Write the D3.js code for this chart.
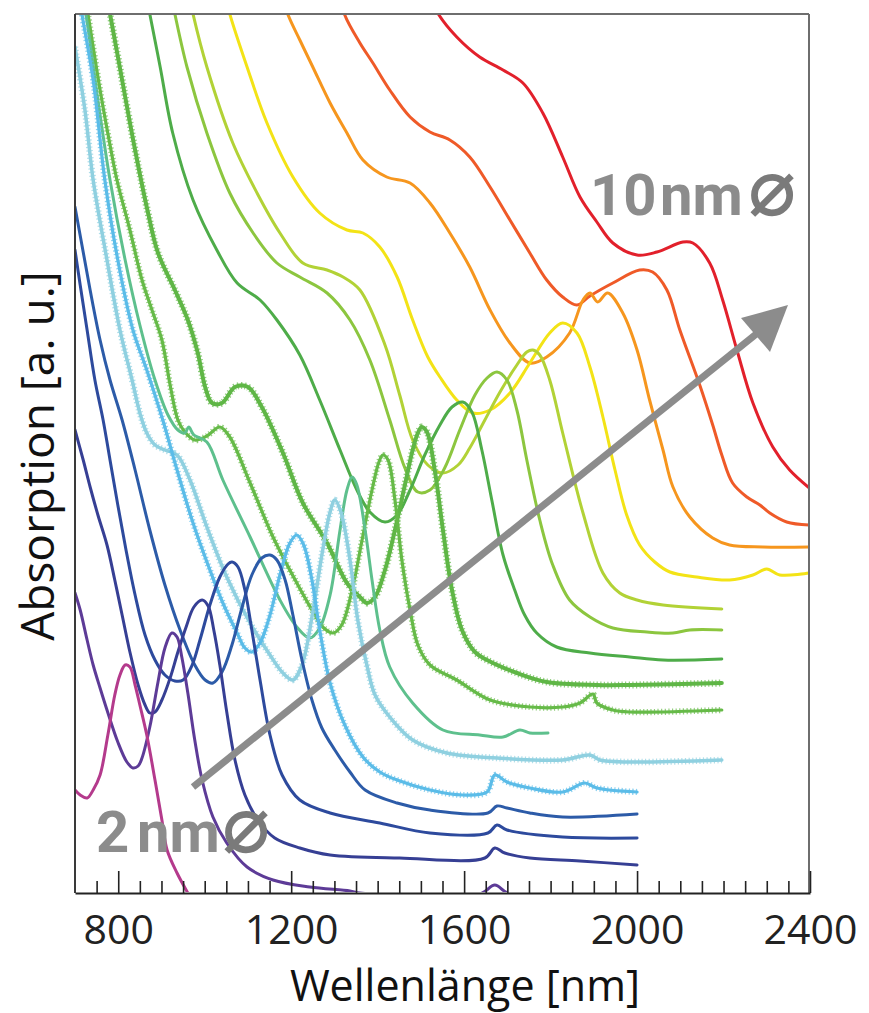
<!DOCTYPE html>
<html><head><meta charset="utf-8">
<script src="https://cdn.jsdelivr.net/npm/d3@7/dist/d3.min.js"></script>
<style>body{margin:0;background:#fff}</style>
</head><body>
<svg id="chart" width="869" height="1013"></svg>
<script>
// ---- data: [wavelength nm, absorption a.u.] ----
const majorTicks = [800, 1200, 1600, 2000, 2400];
const tickLabels = ["800", "1200", "1600", "2000", "2400"];
const minorTicks = d3.range(750, 2400, 50);

const s2nm = [[700,1.03],[712,0.98],[728,0.95],[742,1.03],[758,1.18],[776,1.58],[792,1.98],[804,2.18],[816,2.28],[827,2.26],[839,2.08],[850,1.88],[866,1.58],[885,1.13],[901,0.73],[913,0.43],[936,0.20],[961,0.00],[977,-0.12]];
const sPurple = [[700,3.00],[712,2.83],[728,2.53],[742,2.28],[758,2.05],[774,1.83],[799,1.51],[820,1.31],[834,1.25],[846,1.27],[855,1.35],[873,1.66],[892,2.11],[908,2.45],[924,2.60],[936,2.56],[947,2.36],[961,2.00],[977,1.53],[994,1.13],[1019,0.76],[1051,0.50],[1098,0.26],[1158,0.13],[1243,0.06],[1336,0.02],[1359,0.00],[1636,-0.01],[1671,0.08],[1706,-0.01],[2000,-0.02]];
const sIndigo = [[700,4.63],[719,4.33],[735,4.06],[753,3.78],[774,3.48],[792,3.13],[809,2.78],[827,2.41],[846,2.08],[862,1.88],[873,1.80],[885,1.81],[901,1.93],[920,2.15],[938,2.41],[957,2.66],[975,2.86],[994,2.93],[1008,2.87],[1021,2.63],[1035,2.28],[1051,1.81],[1070,1.33],[1093,0.98],[1123,0.73],[1162,0.55],[1220,0.45],[1290,0.38],[1451,0.35],[1648,0.35],[1671,0.45],[1694,0.40],[1752,0.35],[1868,0.32],[2000,0.28]];
const sBlue1 = [[700,6.43],[712,6.08],[728,5.63],[746,5.13],[765,4.73],[781,4.33],[799,3.88],[818,3.43],[839,2.98],[862,2.58],[885,2.33],[908,2.18],[931,2.12],[950,2.13],[971,2.28],[989,2.53],[1012,2.88],[1035,3.16],[1054,3.29],[1063,3.31],[1077,3.26],[1093,3.03],[1109,2.63],[1128,2.13],[1151,1.58],[1179,1.18],[1220,0.93],[1290,0.80],[1405,0.70],[1521,0.60],[1655,0.60],[1676,0.68],[1699,0.63],[1828,0.56],[2000,0.55]];
const sBlue2 = [[700,6.86],[716,6.48],[735,6.03],[758,5.53],[781,5.13],[809,4.73],[839,4.23],[873,3.63],[908,3.08],[943,2.63],[977,2.28],[1001,2.13],[1019,2.10],[1040,2.21],[1063,2.48],[1086,2.85],[1109,3.18],[1132,3.35],[1151,3.38],[1167,3.33],[1186,3.13],[1204,2.78],[1225,2.33],[1248,1.93],[1271,1.65],[1301,1.43],[1336,1.21],[1371,1.03],[1445,0.90],[1521,0.83],[1655,0.80],[1676,0.87],[1699,0.85],[1752,0.80],[1828,0.76],[2000,0.79]];
const sSky = [[707,9.03],[716,8.79],[742,8.13],[769,7.13],[799,6.33],[834,5.63],[866,5.23],[903,4.73],[936,4.23],[973,3.70],[1012,3.23],[1042,2.90],[1075,2.60],[1093,2.45],[1109,2.41],[1128,2.50],[1151,2.78],[1174,3.18],[1197,3.50],[1213,3.58],[1229,3.48],[1248,3.13],[1266,2.63],[1290,2.10],[1324,1.68],[1366,1.36],[1405,1.21],[1445,1.13],[1521,1.03],[1597,0.98],[1653,1.01],[1671,1.18],[1699,1.11],[1752,1.05],[1828,1.01],[1879,1.10],[1907,1.05],[2000,1.01]];
const sCyan = [[700,8.46],[723,7.83],[742,7.13],[774,6.33],[804,5.63],[832,5.13],[850,4.80],[866,4.60],[885,4.48],[908,4.43],[936,4.38],[966,4.13],[1005,3.66],[1051,3.16],[1105,2.70],[1151,2.38],[1181,2.20],[1204,2.13],[1225,2.28],[1250,2.81],[1271,3.38],[1290,3.81],[1301,3.93],[1315,3.81],[1336,3.33],[1354,2.73],[1375,2.28],[1394,1.98],[1428,1.76],[1481,1.53],[1560,1.40],[1676,1.35],[1828,1.33],[1891,1.38],[1914,1.33],[1983,1.31],[2196,1.33]];
const sTeal = [[716,8.98],[725,8.79],[753,7.93],[781,7.13],[816,6.33],[850,5.68],[885,5.13],[915,4.78],[938,4.63],[954,4.60],[963,4.66],[975,4.58],[1005,4.51],[1042,4.13],[1105,3.56],[1174,2.93],[1213,2.66],[1243,2.55],[1266,2.65],[1290,2.98],[1313,3.63],[1329,4.03],[1341,4.16],[1352,4.08],[1371,3.63],[1387,3.13],[1405,2.63],[1428,2.26],[1481,1.90],[1551,1.63],[1636,1.58],[1690,1.56],[1729,1.63],[1752,1.60],[1794,1.60]];
const sGreen1 = [[723,8.98],[730,8.79],[758,8.03],[781,7.48],[797,7.13],[827,6.63],[855,6.13],[878,5.83],[901,5.53],[920,5.08],[938,4.73],[954,4.61],[977,4.53],[1005,4.57],[1035,4.66],[1058,4.56],[1105,4.10],[1158,3.56],[1213,3.10],[1255,2.78],[1273,2.66],[1297,2.60],[1317,2.68],[1341,3.03],[1364,3.53],[1387,4.03],[1403,4.31],[1412,4.38],[1424,4.33],[1440,3.93],[1456,3.33],[1475,2.83],[1493,2.48],[1521,2.28],[1583,2.13],[1660,1.93],[1752,1.86],[1828,1.86],[1868,1.90],[1898,1.99],[1907,1.90],[1944,1.83],[1983,1.81],[2196,1.83]];
const sGreen2 = [[772,8.98],[781,8.79],[809,8.13],[839,7.43],[869,6.80],[892,6.40],[931,6.03],[961,5.73],[984,5.40],[1001,5.06],[1017,4.90],[1040,4.90],[1070,5.06],[1100,5.06],[1132,4.86],[1181,4.40],[1227,3.90],[1283,3.50],[1329,3.10],[1359,2.96],[1375,2.90],[1394,2.96],[1417,3.23],[1440,3.63],[1463,4.08],[1481,4.43],[1493,4.60],[1502,4.66],[1514,4.61],[1532,4.23],[1551,3.63],[1572,3.03],[1595,2.63],[1625,2.41],[1653,2.33],[1722,2.20],[1791,2.11],[1907,2.08],[1983,2.08],[2196,2.10]];
const sGreen3 = [[864,8.98],[873,8.79],[897,8.26],[926,7.60],[973,6.93],[1028,6.43],[1075,6.10],[1128,5.93],[1167,5.73],[1220,5.38],[1266,4.93],[1313,4.43],[1352,4.03],[1382,3.81],[1417,3.71],[1445,3.78],[1475,4.03],[1509,4.38],[1544,4.68],[1572,4.86],[1597,4.91],[1618,4.81],[1641,4.43],[1664,3.93],[1690,3.38],[1717,3.03],[1740,2.78],[1768,2.60],[1814,2.46],[1891,2.40],[1983,2.36],[2060,2.33],[2196,2.34]];
const sYGreen1 = [[922,8.98],[931,8.79],[959,8.26],[1005,7.60],[1058,7.00],[1112,6.60],[1167,6.30],[1220,6.16],[1283,6.00],[1336,5.73],[1382,5.33],[1428,4.73],[1463,4.25],[1493,4.01],[1521,4.03],[1555,4.25],[1590,4.63],[1625,4.98],[1653,5.15],[1676,5.21],[1699,5.13],[1722,4.83],[1745,4.33],[1775,3.73],[1805,3.28],[1844,2.93],[1891,2.76],[1944,2.65],[2023,2.61],[2083,2.60],[2122,2.63],[2196,2.63]];
const sYGreen2 = [[964,8.98],[973,8.79],[1005,8.26],[1065,7.50],[1121,7.00],[1174,6.60],[1227,6.30],[1283,6.23],[1320,6.16],[1359,6.03],[1417,5.48],[1451,4.98],[1481,4.53],[1516,4.28],[1551,4.20],[1586,4.28],[1613,4.45],[1648,4.73],[1683,5.01],[1722,5.28],[1745,5.41],[1759,5.43],[1775,5.38],[1798,5.13],[1828,4.60],[1875,3.80],[1921,3.20],[1960,3.00],[2000,2.93],[2060,2.88],[2196,2.84]];
const sYellow = [[1044,9.03],[1058,8.79],[1098,8.26],[1144,7.70],[1204,7.16],[1266,6.80],[1329,6.63],[1366,6.60],[1405,6.46],[1445,6.16],[1481,5.73],[1516,5.36],[1544,5.16],[1583,4.93],[1620,4.80],[1660,4.83],[1706,5.00],[1752,5.30],[1798,5.60],[1828,5.70],[1861,5.60],[1891,5.26],[1921,4.76],[1949,4.23],[1976,3.78],[2006,3.48],[2041,3.31],[2076,3.21],[2138,3.16],[2214,3.13],[2268,3.18],[2300,3.24],[2330,3.18],[2399,3.20]];
const sOrange = [[1179,8.98],[1192,8.79],[1220,8.53],[1250,8.26],[1290,7.90],[1329,7.60],[1366,7.33],[1421,7.16],[1475,7.10],[1521,6.90],[1567,6.60],[1613,6.26],[1660,5.83],[1706,5.50],[1752,5.30],[1791,5.36],[1844,5.60],[1875,5.93],[1891,6.00],[1909,5.91],[1932,6.00],[1967,5.80],[2000,5.43],[2029,4.93],[2060,4.43],[2083,4.06],[2122,3.76],[2175,3.55],[2214,3.48],[2291,3.46],[2399,3.46]];
const sOrangeRed = [[1313,8.98],[1324,8.78],[1359,8.50],[1389,8.30],[1428,8.03],[1475,7.76],[1521,7.61],[1567,7.53],[1613,7.36],[1660,7.06],[1706,6.73],[1752,6.40],[1791,6.13],[1828,5.96],[1861,5.88],[1891,5.97],[1944,6.10],[2006,6.23],[2036,6.21],[2069,6.03],[2099,5.63],[2145,5.08],[2175,4.68],[2196,4.38],[2221,4.10],[2254,3.96],[2284,3.88],[2307,3.80],[2346,3.71],[2399,3.68]];
const s10nm = [[1521,8.98],[1539,8.80],[1583,8.56],[1636,8.36],[1690,8.23],[1736,8.10],[1782,7.80],[1828,7.36],[1868,6.96],[1907,6.71],[1944,6.50],[2000,6.38],[2046,6.41],[2106,6.51],[2129,6.50],[2168,6.30],[2198,5.93],[2231,5.43],[2268,4.90],[2314,4.46],[2353,4.23],[2404,4.03]];

// ---- styling (drawn from largest to smallest particle) ----
const series = [
  {data: s10nm,      color: "#e2202b", w: 3},
  {data: sOrangeRed, color: "#ef5a28", w: 3},
  {data: sOrange,    color: "#f6961e", w: 3},
  {data: sYellow,    color: "#f3e316", w: 3},
  {data: sYGreen2,   color: "#b2d236", w: 3},
  {data: sYGreen1,   color: "#8cc63f", w: 3},
  {data: sGreen3,    color: "#4eac49", w: 3},
  {data: sGreen2,    color: "#5fb646", w: 4, dotted: true},
  {data: sGreen1,    color: "#66ba48", w: 3.2, dotted: true},
  {data: sTeal,      color: "#5ec08d", w: 3},
  {data: sCyan,      color: "#8fd0e0", w: 3.5, dotted: true},
  {data: sSky,       color: "#5bbce8", w: 3.2, dotted: true},
  {data: sBlue2,     color: "#2c5ba8", w: 3},
  {data: sBlue1,     color: "#2d4a9d", w: 3},
  {data: sIndigo,    color: "#363f94", w: 3},
  {data: sPurple,    color: "#5d3b97", w: 3},
  {data: s2nm,       color: "#b43a8c", w: 3}
];

const svg = d3.select("#chart");
svg.append("rect").attr("width", 869).attr("height", 1013).attr("fill", "#fff");

const x = d3.scaleLinear().domain([700, 2400]).range([75, 810]);
const y = d3.scaleLinear().domain([0, 8.79]).range([893, 14]);

svg.append("clipPath").attr("id", "plotclip")
  .append("rect").attr("x", 76).attr("y", 15).attr("width", 733).attr("height", 877);

const line = d3.line().x(d => x(d[0])).y(d => y(d[1])).curve(d3.curveCatmullRom.alpha(0.5));
const gCurves = svg.append("g").attr("clip-path", "url(#plotclip)");

series.forEach(s => {
  if (s.dotted) {
    gCurves.append("path").attr("d", line(s.data)).attr("fill", "none")
      .attr("stroke", s.color).attr("stroke-width", s.w + 3)
      .attr("stroke-dasharray", "1.2,2.4").attr("opacity", 0.7)
      .attr("stroke-linejoin", "round");
  }
  gCurves.append("path").attr("d", line(s.data)).attr("fill", "none")
    .attr("stroke", s.color).attr("stroke-width", s.w)
    .attr("stroke-linejoin", "round").attr("stroke-linecap", "round");
});

// frame
svg.append("line").attr("x1", 75).attr("x2", 809).attr("y1", 14).attr("y2", 14)
  .attr("stroke", "#6e6e6e").attr("stroke-width", 2);
svg.append("line").attr("x1", 809).attr("x2", 809).attr("y1", 14).attr("y2", 893)
  .attr("stroke", "#6e6e6e").attr("stroke-width", 2);
svg.append("line").attr("x1", 75).attr("x2", 75).attr("y1", 14).attr("y2", 893)
  .attr("stroke", "#3a3a3a").attr("stroke-width", 2);

// x axis
const gx = svg.append("g").attr("transform", "translate(0,893)");
gx.call(d3.axisBottom(x).tickValues(minorTicks.filter(v => !majorTicks.includes(v)))
  .tickSize(-12).tickSizeOuter(0).tickFormat(""));
gx.call(g => g.selectAll(".tick line").attr("stroke", "#222").attr("stroke-width", 1.6));
const gx2 = svg.append("g").attr("transform", "translate(0,893)");
gx2.call(d3.axisBottom(x).tickValues(majorTicks).tickSize(-22).tickSizeOuter(0)
  .tickPadding(22).tickFormat((d, i) => tickLabels[i]));
gx2.selectAll(".tick line").attr("stroke", "#222").attr("stroke-width", 1.6);
gx2.selectAll(".tick text").attr("font-family", "Open Sans").attr("font-size", 41)
  .attr("dy", null).attr("y", 51).attr("fill", "#222");
gx2.select(".domain").attr("stroke", "#222").attr("stroke-width", 2.2);
gx.select(".domain").remove();

// axis titles
svg.append("text").attr("x", 465).attr("y", 1001).attr("text-anchor", "middle")
  .attr("font-family", "Open Sans").attr("font-size", 43).attr("fill", "#111")
  .text("Wellenlänge [nm]");
svg.append("text").attr("transform", "translate(54,456) rotate(-90)")
  .attr("text-anchor", "middle").attr("font-family", "Open Sans").attr("font-size", 46)
  .attr("fill", "#111").text("Absorption [a. u.]");

// arrow
const arrowColor = "#8c8c8c";
svg.append("line").attr("x1", 193).attr("y1", 787).attr("x2", 760).attr("y2", 331)
  .attr("stroke", arrowColor).attr("stroke-width", 7);
svg.append("path").attr("d", "M788,305 L741,318 L770,352 Z").attr("fill", arrowColor);

// size labels
const t10 = svg.append("text").attr("y", 215).attr("font-family", "Roboto")
  .attr("font-weight", "bold").attr("font-size", 58).attr("fill", arrowColor);
t10.append("tspan").attr("x", 590).text("10");
t10.append("tspan").attr("x", 660).text("nm");
t10.append("tspan").attr("x", 748).attr("font-family", "DejaVu Sans").attr("font-size", 80)
  .attr("fill", "#7a7a7a").text("⌀");

const t2 = svg.append("text").attr("y", 852).attr("font-family", "Roboto")
  .attr("font-weight", "bold").attr("font-size", 58).attr("fill", arrowColor);
t2.append("tspan").attr("x", 96).text("2");
t2.append("tspan").attr("x", 137).text("nm");
t2.append("tspan").attr("x", 222).attr("font-family", "DejaVu Sans").attr("font-size", 80)
  .attr("fill", "#7a7a7a").text("⌀");
</script>
</body></html>
